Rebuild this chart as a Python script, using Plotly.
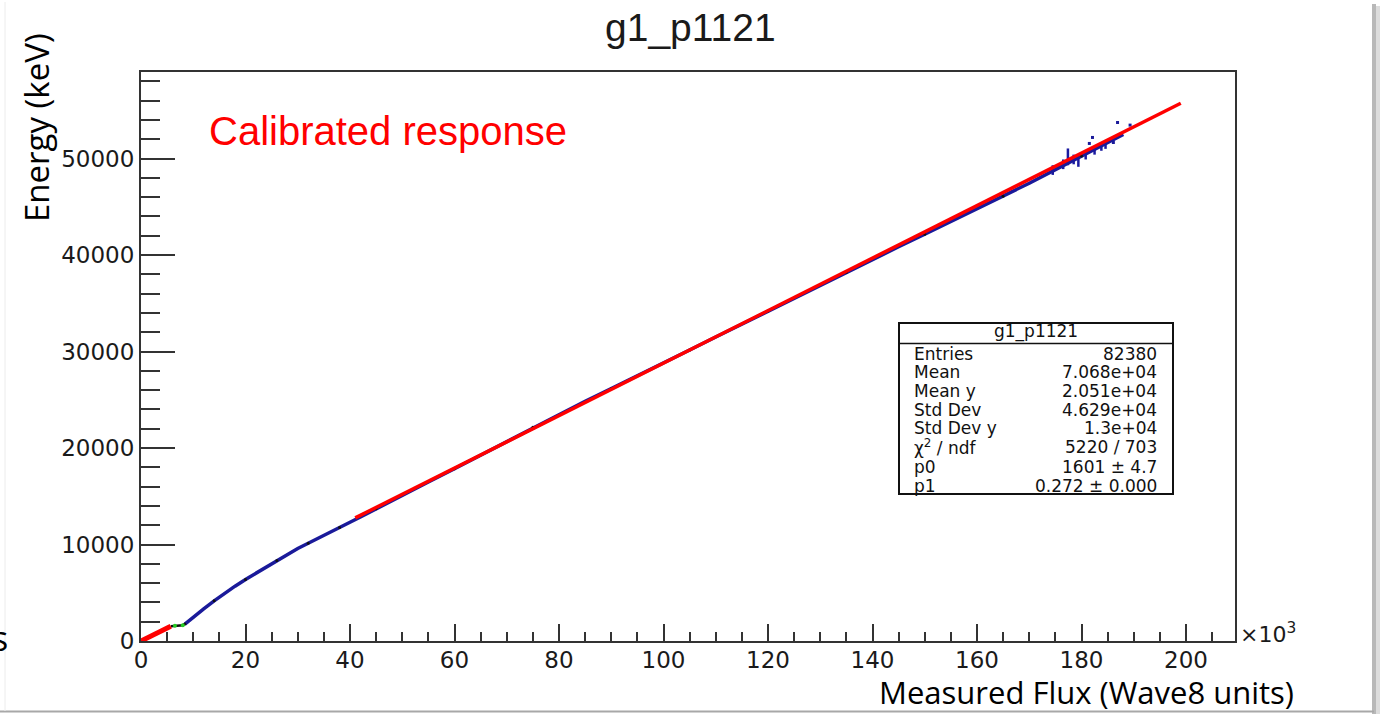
import plotly.graph_objects as go

# ---------------- data (x in units of 10^3 Wave8 units, y in keV) ----------------
low_red_x = [0, 1, 2, 3, 4, 5, 5.7]
low_red_y = [0, 270, 540, 810, 1080, 1350, 1530]

flat_x = [5.7, 6.5, 7.3, 8.0, 8.4]
flat_y = [1530, 1580, 1600, 1640, 1760]

data_x = [8.4, 10, 12, 14, 16, 18, 20, 22, 24, 26, 28, 30, 32, 34, 36, 38, 40, 42, 45,
          50, 55, 60, 65, 70, 75, 80, 85, 90, 95, 100, 105, 110, 115, 120, 125, 130, 135,
          140, 145, 150, 155, 160, 165, 170, 175, 180, 185, 188]
data_y = [1760, 2480, 3340, 4160, 4940, 5680, 6380, 7040, 7700, 8350, 8970, 9590, 10130,
          10650, 11200, 11750, 12300, 12850, 13700, 15100, 16480, 17850, 19250, 20700, 22150,
          23550, 24850, 26150, 27450, 28800, 30150, 31500, 32850, 34200, 35550, 36850, 38200,
          39550, 40850, 42150, 43450, 44770, 46080, 47440, 48850, 50260, 51720, 52500]

spike_x = [174.5, 176.5, 177.4, 178.5, 179.4, 180.8, 182.5, 183.8, 184.6]
spike_lo = [48300, 48900, 49300, 49400, 49140, 49900, 50400, 50800, 51000]
spike_hi = [49300, 49900, 51040, 50400, 50350, 50600, 51000, 51600, 51500]

outlier_x = [181.5, 182.1, 186.1, 186.9, 189.3]
outlier_y = [51560, 52180, 51660, 53730, 53460]

fit_x = [41, 60, 80, 100, 120, 140, 160, 180, 199]
fit_p0 = 1601
fit_p1 = 0.272
fit_y = [fit_p0 + fit_p1 * 1000 * v for v in fit_x]

x_ticks = [0, 20, 40, 60, 80, 100, 120, 140, 160, 180, 200]
y_ticks = [0, 10000, 20000, 30000, 40000, 50000]

stats_title = "g1_p1121"
stats_labels = ["Entries", "Mean", "Mean y", "Std Dev", "Std Dev y", "χ<sup>2</sup> / ndf", "p0", "p1"]
stats_values = ["82380", "7.068e+04", "2.051e+04", "4.629e+04", "1.3e+04", "5220 / 703",
                "1601 ± 4.7", "0.272 ± 0.000"]

# ---------------- layout helpers ----------------
W, H = 1383, 714
L, R, T, B = 141, 1235, 72, 641


def px(x):
    return (x - L) / (R - L)


def py(y):
    return (B - y) / (B - T)


fig = go.Figure()

# spikes (blue vertical bands)
sx, sy = [], []
for x, lo, hi in zip(spike_x, spike_lo, spike_hi):
    sx += [x, x, None]
    sy += [lo, hi, None]
fig.add_trace(go.Scatter(x=sx, y=sy, mode="lines", line=dict(color="#1a1aa0", width=2.5),
                         hoverinfo="skip", showlegend=False))

fig.add_trace(go.Scatter(x=data_x, y=data_y, mode="lines", line=dict(color="#1a1a9a", width=3.5),
                         showlegend=False))
fig.add_trace(go.Scatter(x=data_x[::3], y=data_y[::3], mode="markers",
                         marker=dict(color="#111111", size=3), showlegend=False))
fig.add_trace(go.Scatter(x=flat_x, y=flat_y, mode="lines", line=dict(color="#111111", width=2.5),
                         showlegend=False))
fig.add_trace(go.Scatter(x=flat_x[1:4:2], y=flat_y[1:4:2], mode="markers",
                         marker=dict(color="#22cc22", size=4), showlegend=False))
fig.add_trace(go.Scatter(x=outlier_x, y=outlier_y, mode="markers",
                         marker=dict(color="#1a1a9a", size=3, symbol="square"), showlegend=False))

fig.add_trace(go.Scatter(x=low_red_x, y=low_red_y, mode="lines", line=dict(color="#ff0000", width=5),
                         showlegend=False))
fig.add_trace(go.Scatter(x=fit_x, y=fit_y, mode="lines", line=dict(color="#ff0000", width=3.5),
                         showlegend=False))

axis_common = dict(showgrid=False, zeroline=False, showline=True, linecolor="#333333", linewidth=2,
                   mirror=True, ticks="inside", tickcolor="#333333", tickwidth=1.5,
                   tickfont=dict(family="DejaVu Sans", size=23, color="#1a1a1a"))

fig.update_xaxes(range=[0, (R - L) / 5.225], tickvals=x_ticks, ticktext=[str(v) for v in x_ticks],
                 ticklen=17, ticklabelstandoff=-3,
                 minor=dict(dtick=5, ticklen=9, ticks="inside", tickcolor="#333333", tickwidth=1.5),
                 **axis_common)
fig.update_yaxes(range=[0, (B - T) * 10000 / 96.5], tickvals=y_ticks, ticktext=[str(v) for v in y_ticks],
                 ticklen=34, minor=dict(dtick=2000, ticklen=19, ticks="inside", tickcolor="#333333", tickwidth=1.5),
                 **axis_common)

ann = []
# title
ann.append(dict(x=px(690), y=py(28), xref="paper", yref="paper", text="g1_p1121", showarrow=False,
                font=dict(family="Liberation Sans", size=39, color="#1a1a1a"), xanchor="center", yanchor="middle"))
# x10^3
ann.append(dict(x=px(1238), y=py(633), xref="paper", yref="paper", text="×10<sup>3</sup>", showarrow=False,
                font=dict(family="DejaVu Sans", size=22, color="#1a1a1a"), xanchor="left", yanchor="middle"))
# overlay slide texts
ann.append(dict(x=px(207), y=py(131), xref="paper", yref="paper", text="Calibrated response", showarrow=False,
                font=dict(family="Liberation Sans", size=40, color="#ff0000"), xanchor="left", yanchor="middle"))
ann.append(dict(x=px(37), y=py(128), xref="paper", yref="paper", text="Energy (keV)", showarrow=False,
                textangle=-90, font=dict(family="Open Sans", size=33, color="#000000"),
                xanchor="center", yanchor="middle"))
ann.append(dict(x=px(1086), y=py(692), xref="paper", yref="paper", text="Measured Flux (Wave8 units)",
                showarrow=False, font=dict(family="Open Sans", size=31, color="#000000"),
                xanchor="center", yanchor="middle"))
ann.append(dict(x=px(10), y=py(638), xref="paper", yref="paper", text="s", showarrow=False,
                font=dict(family="Open Sans", size=34, color="#000000"), xanchor="right", yanchor="middle"))

# stats box text
bx0, bx1, by0, by1 = 899, 1173, 323, 494
ann.append(dict(x=px((bx0 + bx1) / 2), y=py(331), xref="paper", yref="paper", text=stats_title,
                showarrow=False, font=dict(family="DejaVu Sans", size=17, color="#111111"),
                xanchor="center", yanchor="middle"))
row_y = [354, 372, 391, 410, 428, 447, 467, 486]
for lab, val, yy in zip(stats_labels, stats_values, row_y):
    ann.append(dict(x=px(912), y=py(yy), xref="paper", yref="paper", text=lab, showarrow=False,
                    font=dict(family="DejaVu Sans", size=17, color="#111111"), xanchor="left", yanchor="middle"))
    ann.append(dict(x=px(1159), y=py(yy), xref="paper", yref="paper", text=val, showarrow=False,
                    font=dict(family="DejaVu Sans", size=17, color="#111111"), xanchor="right", yanchor="middle"))

shapes = [
    dict(type="rect", xref="paper", yref="paper", x0=px(bx0), x1=px(bx1), y0=py(by0), y1=py(by1),
         line=dict(color="#111111", width=2), fillcolor="white", layer="below"),
    dict(type="line", xref="paper", yref="paper", x0=px(bx0), x1=px(bx1), y0=py(343.5), y1=py(343.5),
         line=dict(color="#111111", width=1.5), layer="above"),
    # slide image border / shadow
    dict(type="rect", xref="paper", yref="paper", x0=px(1372), x1=px(1376), y0=py(4), y1=py(714),
         line=dict(width=0), fillcolor="#b8b8b8"),
    dict(type="rect", xref="paper", yref="paper", x0=px(1376), x1=px(1380), y0=py(6), y1=py(714),
         line=dict(width=0), fillcolor="#dcdcdc"),
    dict(type="line", xref="paper", yref="paper", x0=px(0), x1=px(1374), y0=py(711.5), y1=py(711.5),
         line=dict(color="#a8a8a8", width=2)),
    dict(type="line", xref="paper", yref="paper", x0=px(5), x1=px(5), y0=py(2), y1=py(711),
         line=dict(color="#ececec", width=1)),
]

fig.update_layout(width=W, height=H, margin=dict(l=L, r=W - R, t=T, b=H - B),
                  paper_bgcolor="white", plot_bgcolor="white", showlegend=False,
                  annotations=ann, shapes=shapes)

fig.write_html("out.html")
